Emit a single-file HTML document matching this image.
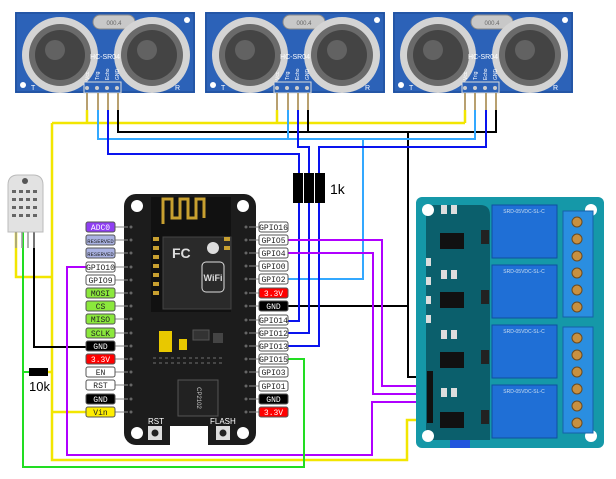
<!DOCTYPE html>
<html><head><meta charset="utf-8"><style>
html,body{margin:0;padding:0;background:#fff;width:616px;height:479px;overflow:hidden}
svg{display:block}
.lb{font-family:"Liberation Mono","DejaVu Sans Mono",monospace;font-size:8px;text-anchor:middle}
</style></head><body>
<svg width="616" height="479" viewBox="0 0 616 479" xmlns="http://www.w3.org/2000/svg">
<defs>
<g id="sensor">
  <rect x="0" y="0" width="180" height="81" fill="#2c62b8"/>
  <rect x="1" y="1" width="178" height="79" fill="none" stroke="#1d4a95" stroke-width="1"/>
  <rect x="78" y="3" width="42" height="14" rx="7" fill="#c8c8c8" stroke="#888"/>
  <text x="99" y="13" font-size="6" fill="#666" text-anchor="middle" font-family="Liberation Sans,sans-serif">000.4</text>
  <circle cx="45" cy="43" r="38" fill="#d4d4d4"/>
  <circle cx="45" cy="43" r="31" fill="#6a6a6a"/>
  <circle cx="45" cy="43" r="25" fill="#444"/>
  <circle cx="40" cy="38" r="10" fill="#777" opacity="0.6"/>
  <circle cx="137" cy="43" r="38" fill="#d4d4d4"/>
  <circle cx="137" cy="43" r="31" fill="#6a6a6a"/>
  <circle cx="137" cy="43" r="25" fill="#444"/>
  <circle cx="132" cy="38" r="10" fill="#777" opacity="0.6"/>
  <text x="90" y="47" font-size="7" fill="#fff" text-anchor="middle" font-family="Liberation Sans,sans-serif">HC-SR04</text>
  <circle cx="8" cy="73" r="3" fill="#fff"/>
  <circle cx="172" cy="8" r="3" fill="#fff"/>
  <text x="16" y="78" font-size="7" fill="#fff" font-family="Liberation Sans,sans-serif">T</text>
  <text x="160" y="78" font-size="7" fill="#fff" font-family="Liberation Sans,sans-serif">R</text>
  <g font-size="5" fill="#fff" font-family="Liberation Sans,sans-serif">
   <text transform="translate(74,68) rotate(-90)">Vcc</text>
   <text transform="translate(84,68) rotate(-90)">Trig</text>
   <text transform="translate(94,68) rotate(-90)">Echo</text>
   <text transform="translate(104,68) rotate(-90)">GND</text>
  </g>
  <rect x="69" y="70" width="37" height="11" fill="#2c62b8" stroke="#ddd" stroke-width="1"/>
  <circle cx="72" cy="76" r="2" fill="#ccc"/><circle cx="82" cy="76" r="2" fill="#ccc"/>
  <circle cx="92" cy="76" r="2" fill="#ccc"/><circle cx="102" cy="76" r="2" fill="#ccc"/>
</g>
</defs>

<!-- sensors -->
<use href="#sensor" x="15" y="12"/>
<use href="#sensor" x="205" y="12"/>
<use href="#sensor" x="393" y="12"/>
<g stroke="#b8a070" stroke-width="2">
 <path d="M87 93V110M98 93V110M108 93V110M118 93V110"/>
 <path d="M277 93V110M288 93V110M298 93V110M308 93V110"/>
 <path d="M465 93V110M475 93V110M486 93V110M496 93V110"/>
</g>

<!-- wires -->
<g fill="none" stroke-width="2">
 <g stroke="#f2e600" stroke-width="2.5">
  <path d="M87 110V123M277 110V123M465 110V123M52 123H465"/>
  <path d="M52 123V460H407V420H430"/>
  <path d="M52 412H86"/>
  <path d="M16 232V277H52"/>
  <path d="M48 372H52"/>
 </g>
 <g stroke="#000">
  <path d="M118 110V132H496V110M308 110V132"/>
  <path d="M408 132V377H430"/>
  <path d="M288 306H408"/>
  <path d="M34 232V347H86"/>
 </g>
 <g stroke="#33a8ff">
  <path d="M98 110V139H475V110M288 110V139"/>
  <path d="M363 139V279H288"/>
 </g>
 <g stroke="#0a14ee">
  <path d="M108 110V154H299V321H288"/>
  <path d="M298 110V147H309V333H288"/>
  <path d="M486 110V147H319V346H288"/>
 </g>
 <g stroke="#b000ff">
  <path d="M288 240H382V386H430"/>
  <path d="M288 253H373V394H430"/>
  <path d="M86 267H67V455H372V402H430"/>
 </g>
 <g stroke="#22dd22">
  <path d="M288 359H304V467H23V232"/>
  <path d="M23 372H29"/>
 </g>
</g>

<!-- resistors -->
<rect x="293" y="173" width="10" height="30" fill="#000"/>
<rect x="304" y="173" width="10" height="30" fill="#000"/>
<rect x="315" y="173" width="10" height="30" fill="#000"/>
<text x="330" y="194" font-size="14" font-family="Liberation Sans,sans-serif">1k</text>
<rect x="29" y="368" width="19" height="8" fill="#000"/>
<text x="29" y="391" font-size="13" font-family="Liberation Sans,sans-serif">10k</text>

<!-- DHT -->
<path d="M8 232V185Q8 175 18 175H33Q43 175 43 185V232Z" fill="#e2e2e2" stroke="#bbb"/>
<circle cx="25" cy="181" r="3" fill="#555"/>
<g fill="#666">
 <rect x="12" y="190" width="4" height="3"/><rect x="19" y="190" width="4" height="3"/><rect x="26" y="190" width="4" height="3"/><rect x="33" y="190" width="4" height="3"/>
 <rect x="12" y="198" width="4" height="3"/><rect x="19" y="198" width="4" height="3"/><rect x="26" y="198" width="4" height="3"/><rect x="33" y="198" width="4" height="3"/>
 <rect x="12" y="206" width="4" height="3"/><rect x="19" y="206" width="4" height="3"/><rect x="26" y="206" width="4" height="3"/><rect x="33" y="206" width="4" height="3"/>
 <rect x="12" y="214" width="4" height="3"/><rect x="19" y="214" width="4" height="3"/><rect x="26" y="214" width="4" height="3"/><rect x="33" y="214" width="4" height="3"/>
</g>
<path d="M16 232V248M22 232V248M28 232V248M34 232V248" stroke="#999" stroke-width="1.5"/>

<!-- NodeMCU board -->
<rect x="124" y="194" width="132" height="251" rx="12" fill="#1c1c1c"/>
<circle cx="137" cy="206" r="6" fill="#fff"/><circle cx="243" cy="206" r="6" fill="#fff"/>
<circle cx="137" cy="433" r="6" fill="#fff"/><circle cx="243" cy="433" r="6" fill="#fff"/>
<rect x="151" y="197" width="80" height="115" fill="#111"/>
<path d="M163 224V199H172V218H180V199H188V218H196V199H204V218" fill="none" stroke="#c8a030" stroke-width="3"/>
<rect x="163" y="237" width="68" height="72" fill="#2a2a2a" stroke="#444"/>
<text x="172" y="258" font-size="14" fill="#ddd" font-family="Liberation Sans,sans-serif" font-weight="bold">FC</text>
<rect x="202" y="262" width="22" height="30" rx="4" fill="none" stroke="#ddd"/>
<text x="213" y="281" font-size="9" fill="#ddd" text-anchor="middle" font-family="Liberation Sans,sans-serif" font-weight="bold">WiFi</text>
<circle cx="213" cy="248" r="6" fill="#ddd"/>
<g fill="#c8a030">
 <rect x="153" y="237" width="6" height="4"/><rect x="153" y="246" width="6" height="4"/><rect x="153" y="255" width="6" height="4"/><rect x="153" y="264" width="6" height="4"/><rect x="153" y="273" width="6" height="4"/><rect x="153" y="282" width="6" height="4"/><rect x="153" y="291" width="6" height="4"/>
 <rect x="224" y="237" width="6" height="4"/><rect x="224" y="246" width="6" height="4"/>
</g>
<rect x="159" y="331" width="13" height="21" fill="#e8c800"/>
<rect x="179" y="339" width="8" height="11" fill="#e8c800"/>
<rect x="193" y="330" width="16" height="10" fill="#333" stroke="#555"/>
<rect x="213" y="333" width="10" height="10" fill="#444"/>
<rect x="178" y="380" width="40" height="36" fill="#222" stroke="#555"/>
<text transform="translate(197,398) rotate(90)" font-size="6" fill="#ccc" text-anchor="middle" font-family="Liberation Sans,sans-serif">CP2102</text>
<g stroke="#555" stroke-dasharray="3,3" stroke-width="1.5"><path d="M153 358H225M153 363H225"/></g>
<text x="148" y="424" font-size="8" fill="#fff" font-family="Liberation Sans,sans-serif">RST</text>
<text x="210" y="424" font-size="8" fill="#fff" font-family="Liberation Sans,sans-serif">FLASH</text>
<rect x="148" y="426" width="14" height="14" fill="#ddd"/><circle cx="155" cy="433" r="3.5" fill="#222"/>
<rect x="216" y="426" width="14" height="14" fill="#ddd"/><circle cx="223" cy="433" r="3.5" fill="#222"/>
<rect x="170" y="426" width="38" height="19" fill="#fff"/>
<g fill="#666">
 <circle cx="131" cy="227" r="1.5"/><circle cx="131" cy="240" r="1.5"/><circle cx="131" cy="253" r="1.5"/><circle cx="131" cy="267" r="1.5"/><circle cx="131" cy="280" r="1.5"/><circle cx="131" cy="293" r="1.5"/><circle cx="131" cy="306" r="1.5"/><circle cx="131" cy="319" r="1.5"/><circle cx="131" cy="333" r="1.5"/><circle cx="131" cy="346" r="1.5"/><circle cx="131" cy="359" r="1.5"/><circle cx="131" cy="372" r="1.5"/><circle cx="131" cy="385" r="1.5"/><circle cx="131" cy="399" r="1.5"/><circle cx="131" cy="412" r="1.5"/>
 <circle cx="246" cy="227" r="1.5"/><circle cx="246" cy="240" r="1.5"/><circle cx="246" cy="253" r="1.5"/><circle cx="246" cy="266" r="1.5"/><circle cx="246" cy="279" r="1.5"/><circle cx="246" cy="293" r="1.5"/><circle cx="246" cy="306" r="1.5"/><circle cx="246" cy="320" r="1.5"/><circle cx="246" cy="333" r="1.5"/><circle cx="246" cy="346" r="1.5"/><circle cx="246" cy="359" r="1.5"/><circle cx="246" cy="372" r="1.5"/><circle cx="246" cy="386" r="1.5"/><circle cx="246" cy="399" r="1.5"/><circle cx="246" cy="412" r="1.5"/>
</g>
<g stroke="#888" stroke-width="1">
 <path d="M115 227H128M115 240H128M115 253H128M115 267H128M115 280H128M115 293H128M115 306H128M115 319H128M115 333H128M115 346H128M115 359H128M115 372H128M115 385H128M115 399H128M115 412H128"/>
 <path d="M249 227H259M249 240H259M249 253H259M249 266H259M249 279H259M249 293H259M249 306H259M249 320H259M249 333H259M249 346H259M249 359H259M249 372H259M249 386H259M249 399H259M249 412H259"/>
</g>

<!-- left labels -->
<g class="lb" stroke-width="1">
 <rect x="86" y="222" width="29" height="10" rx="2" fill="#8f3ff2" stroke="#555"/><text x="100.5" y="230" fill="#fff" stroke="none">ADC0</text>
 <rect x="86" y="235" width="29" height="10" rx="2" fill="#aab2e2" stroke="#555"/><text x="100.5" y="243" fill="#222" stroke="none" font-size="5.5">RESERVED</text>
 <rect x="86" y="248" width="29" height="10" rx="2" fill="#aab2e2" stroke="#555"/><text x="100.5" y="256" fill="#222" stroke="none" font-size="5.5">RESERVED</text>
 <rect x="86" y="262" width="29" height="10" rx="2" fill="#fff" stroke="#555"/><text x="100.5" y="270" fill="#222" stroke="none">GPIO10</text>
 <rect x="86" y="275" width="29" height="10" rx="2" fill="#fff" stroke="#555"/><text x="100.5" y="283" fill="#222" stroke="none">GPIO9</text>
 <rect x="86" y="288" width="29" height="10" rx="2" fill="#8be83c" stroke="#555"/><text x="100.5" y="296" fill="#222" stroke="none">MOSI</text>
 <rect x="86" y="301" width="29" height="10" rx="2" fill="#8be83c" stroke="#555"/><text x="100.5" y="309" fill="#222" stroke="none">CS</text>
 <rect x="86" y="314" width="29" height="10" rx="2" fill="#8be83c" stroke="#555"/><text x="100.5" y="322" fill="#222" stroke="none">MISO</text>
 <rect x="86" y="328" width="29" height="10" rx="2" fill="#8be83c" stroke="#555"/><text x="100.5" y="336" fill="#222" stroke="none">SCLK</text>
 <rect x="86" y="341" width="29" height="10" rx="2" fill="#000" stroke="#555"/><text x="100.5" y="349" fill="#fff" stroke="none">GND</text>
 <rect x="86" y="354" width="29" height="10" rx="2" fill="#f00" stroke="#555"/><text x="100.5" y="362" fill="#fff" stroke="none">3.3V</text>
 <rect x="86" y="367" width="29" height="10" rx="2" fill="#fff" stroke="#555"/><text x="100.5" y="375" fill="#222" stroke="none">EN</text>
 <rect x="86" y="380" width="29" height="10" rx="2" fill="#fff" stroke="#555"/><text x="100.5" y="388" fill="#222" stroke="none">RST</text>
 <rect x="86" y="394" width="29" height="10" rx="2" fill="#000" stroke="#555"/><text x="100.5" y="402" fill="#fff" stroke="none">GND</text>
 <rect x="86" y="407" width="29" height="10" rx="2" fill="#ffee00" stroke="#555"/><text x="100.5" y="415" fill="#222" stroke="none">Vin</text>
</g>
<!-- right labels -->
<g class="lb" stroke-width="1">
 <rect x="259" y="222" width="29" height="10" rx="2" fill="#fff" stroke="#555"/><text x="273.5" y="230" fill="#222" stroke="none">GPIO16</text>
 <rect x="259" y="235" width="29" height="10" rx="2" fill="#fff" stroke="#555"/><text x="273.5" y="243" fill="#222" stroke="none">GPIO5</text>
 <rect x="259" y="248" width="29" height="10" rx="2" fill="#fff" stroke="#555"/><text x="273.5" y="256" fill="#222" stroke="none">GPIO4</text>
 <rect x="259" y="261" width="29" height="10" rx="2" fill="#fff" stroke="#555"/><text x="273.5" y="269" fill="#222" stroke="none">GPIO0</text>
 <rect x="259" y="274" width="29" height="10" rx="2" fill="#fff" stroke="#555"/><text x="273.5" y="282" fill="#222" stroke="none">GPIO2</text>
 <rect x="259" y="288" width="29" height="10" rx="2" fill="#f00" stroke="#555"/><text x="273.5" y="296" fill="#fff" stroke="none">3.3V</text>
 <rect x="259" y="301" width="29" height="10" rx="2" fill="#000" stroke="#555"/><text x="273.5" y="309" fill="#fff" stroke="none">GND</text>
 <rect x="259" y="315" width="29" height="10" rx="2" fill="#fff" stroke="#555"/><text x="273.5" y="323" fill="#222" stroke="none">GPIO14</text>
 <rect x="259" y="328" width="29" height="10" rx="2" fill="#fff" stroke="#555"/><text x="273.5" y="336" fill="#222" stroke="none">GPIO12</text>
 <rect x="259" y="341" width="29" height="10" rx="2" fill="#fff" stroke="#555"/><text x="273.5" y="349" fill="#222" stroke="none">GPIO13</text>
 <rect x="259" y="354" width="29" height="10" rx="2" fill="#fff" stroke="#555"/><text x="273.5" y="362" fill="#222" stroke="none">GPIO15</text>
 <rect x="259" y="367" width="29" height="10" rx="2" fill="#fff" stroke="#555"/><text x="273.5" y="375" fill="#222" stroke="none">GPIO3</text>
 <rect x="259" y="381" width="29" height="10" rx="2" fill="#fff" stroke="#555"/><text x="273.5" y="389" fill="#222" stroke="none">GPIO1</text>
 <rect x="259" y="394" width="29" height="10" rx="2" fill="#000" stroke="#555"/><text x="273.5" y="402" fill="#fff" stroke="none">GND</text>
 <rect x="259" y="407" width="29" height="10" rx="2" fill="#f00" stroke="#555"/><text x="273.5" y="415" fill="#fff" stroke="none">3.3V</text>
</g>

<!-- relay module -->
<rect x="416" y="197" width="188" height="251" rx="6" fill="#1598a8"/>
<path d="M426 205H480Q490 205 490 215V440H426Z" fill="#0b5f6c"/>
<circle cx="428" cy="210" r="6" fill="#fff"/><circle cx="591" cy="210" r="6" fill="#fff"/>
<circle cx="428" cy="436" r="6" fill="#fff"/><circle cx="591" cy="436" r="6" fill="#fff"/>
<g fill="#1f6fd6" stroke="#0f4fa0">
 <rect x="492" y="205" width="65" height="53"/><rect x="492" y="265" width="65" height="53"/>
 <rect x="492" y="325" width="65" height="53"/><rect x="492" y="385" width="65" height="53"/>
</g>
<g font-size="5" fill="#cde" font-family="Liberation Sans,sans-serif" text-anchor="middle">
 <text x="524" y="213">SRD-05VDC-SL-C</text><text x="524" y="273">SRD-05VDC-SL-C</text>
 <text x="524" y="333">SRD-05VDC-SL-C</text><text x="524" y="393">SRD-05VDC-SL-C</text>
</g>
<g fill="#2a8ee0" stroke="#1560a8">
 <rect x="563" y="211" width="30" height="106"/><rect x="563" y="327" width="30" height="106"/>
</g>
<g fill="#c89040" stroke="#6a4a20">
 <circle cx="577" cy="222" r="5"/><circle cx="577" cy="239" r="5"/><circle cx="577" cy="256" r="5"/><circle cx="577" cy="273" r="5"/><circle cx="577" cy="290" r="5"/><circle cx="577" cy="307" r="5"/>
 <circle cx="577" cy="338" r="5"/><circle cx="577" cy="355" r="5"/><circle cx="577" cy="372" r="5"/><circle cx="577" cy="389" r="5"/><circle cx="577" cy="406" r="5"/><circle cx="577" cy="423" r="5"/>
</g>
<g fill="#111">
 <rect x="440" y="233" width="24" height="16"/><rect x="440" y="292" width="24" height="16"/>
 <rect x="440" y="352" width="24" height="16"/><rect x="440" y="412" width="24" height="16"/>
</g>
<g fill="#ddd">
 <rect x="441" y="205" width="6" height="9"/><rect x="451" y="205" width="6" height="9"/>
 <rect x="441" y="270" width="6" height="9"/><rect x="451" y="270" width="6" height="9"/>
 <rect x="441" y="330" width="6" height="9"/><rect x="451" y="330" width="6" height="9"/>
 <rect x="441" y="388" width="6" height="9"/><rect x="451" y="388" width="6" height="9"/>
 <rect x="426" y="258" width="5" height="8"/><rect x="426" y="277" width="5" height="8"/><rect x="426" y="296" width="5" height="8"/><rect x="426" y="315" width="5" height="8"/>
</g>
<g fill="#222"><rect x="481" y="230" width="8" height="14"/><rect x="481" y="290" width="8" height="14"/><rect x="481" y="350" width="8" height="14"/><rect x="481" y="410" width="8" height="14"/></g>
<rect x="427" y="371" width="6" height="52" fill="#111"/>
<rect x="450" y="440" width="20" height="8" fill="#2255dd"/>
</svg>
</body></html>
